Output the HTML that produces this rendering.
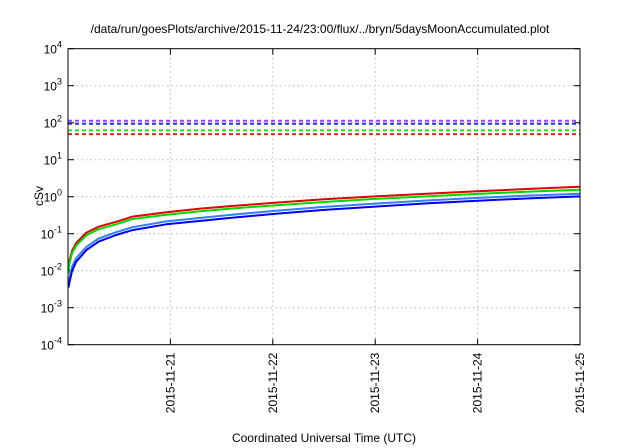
<!DOCTYPE html>
<html><head><meta charset="utf-8"><style>
body{margin:0;background:#fff}
svg{display:block;font-family:"Liberation Sans",sans-serif}
</style></head><body>
<svg id="chart" width="640" height="448" viewBox="0 0 640 448"></svg>
<script>
const days=[0.005,0.013,0.04,0.08,0.18,0.3,0.47,0.63,0.96,1.28,1.6,2,2.5,3,3.5,4,4.5,5];
const redVals=[0.01,0.0175,0.035,0.056,0.107,0.155,0.21,0.29,0.38,0.47,0.56,0.68,0.85,1.02,1.2,1.4,1.62,1.86];
const greenVals=[0.0085,0.015,0.03,0.048,0.091,0.132,0.18,0.25,0.325,0.4,0.48,0.58,0.72,0.87,1.02,1.19,1.37,1.55];
const lblueVals=[0.0045,0.006,0.013,0.022,0.044,0.074,0.11,0.15,0.215,0.265,0.325,0.41,0.53,0.65,0.79,0.93,1.07,1.2];
const blueVals=[0.0035,0.0046,0.01,0.0175,0.036,0.061,0.092,0.125,0.18,0.22,0.27,0.34,0.44,0.54,0.66,0.78,0.9,1.02];
const thresholds=[113,94,62,49];
const thresholdColors=["#a040f0","#2030f0","#20e020","#f02020"];
const xTickDays=[1,2,3,4,5];
const xTickLabels=["2015-11-21","2015-11-22","2015-11-23","2015-11-24","2015-11-25"];
const yTickExps=[-4,-3,-2,-1,0,1,2,3,4];

const L=68,R=580,T=48.7,B=344.7;
const X=d=>L+(R-L)*d/5;
const Y=v=>B-(Math.log10(v)+4)*(B-T)/8;
const svg=document.getElementById('chart');
const NS="http://www.w3.org/2000/svg";
function mk(tag,attrs,name,parent){const e=document.createElementNS(NS,tag);for(const k in attrs)e.setAttribute(k,attrs[k]);


(parent||svg).appendChild(e);return e;}
const title=mk('text',{x:320,y:33,'text-anchor':'middle','font-size':12},'chart-title');
title.textContent="/data/run/goesPlots/archive/2015-11-24/23:00/flux/../bryn/5daysMoonAccumulated.plot";
yTickExps.forEach(e=>{const y=Y(Math.pow(10,e));
if(e>-4&&e<4)mk('line',{x1:L,x2:R,y1:y,y2:y,stroke:'#bbb','stroke-dasharray':'1.5,3','stroke-width':1},'y-grid-line');
mk('line',{x1:L,x2:L+6,y1:y,y2:y,stroke:'#000'},'y-tick');
mk('line',{x1:R-6,x2:R,y1:y,y2:y,stroke:'#000'},'y-tick-right');
const t=mk('text',{x:L-6,y:y+5,'text-anchor':'end','font-size':12},'y-tick-label');
t.innerHTML='10<tspan dy="-6" font-size="9">'+e+'</tspan>';});
xTickDays.forEach((d,i)=>{const x=X(d);
if(d<5)mk('line',{x1:x,x2:x,y1:T,y2:B,stroke:'#bbb','stroke-dasharray':'1.5,3'},'x-grid-line');
mk('line',{x1:x,x2:x,y1:B-6,y2:B,stroke:'#000'},'x-tick');
mk('line',{x1:x,x2:x,y1:T,y2:T+6,stroke:'#000'},'x-tick-top');
const t=mk('text',{x:0,y:0,'text-anchor':'end','font-size':12,transform:`translate(${x+4},${B+8}) rotate(-90)`},'x-tick-label');
t.textContent=xTickLabels[i];});
thresholds.forEach((v,i)=>{mk('line',{x1:L,x2:R,y1:Y(v),y2:Y(v),stroke:thresholdColors[i],'stroke-width':2,'stroke-dasharray':'4,3'},'threshold-line');});
const series=[[redVals,'#e00000','red-series'],[greenVals,'#00d800','green-series'],[lblueVals,'#3080ff','light-blue-series'],[blueVals,'#0000ee','blue-series']];
series.forEach(s=>{mk('path',{d:s[0].map((v,i)=>(i?'L':'M')+X(days[i]).toFixed(1)+','+Y(v).toFixed(1)).join(''),fill:'none',stroke:s[1],'stroke-width':2,'stroke-linejoin':'round'},s[2]);});
mk('rect',{x:L,y:T,width:R-L,height:B-T,fill:'none',stroke:'#000','stroke-width':1},'plot-frame');
const yl=mk('text',{x:0,y:0,'text-anchor':'middle','font-size':12,transform:'translate(43,196) rotate(-90)'},'y-axis-title');yl.textContent='cSv';
const xl=mk('text',{x:324,y:442,'text-anchor':'middle','font-size':12},'x-axis-title');xl.textContent='Coordinated Universal Time (UTC)';
</script>
</body></html>
